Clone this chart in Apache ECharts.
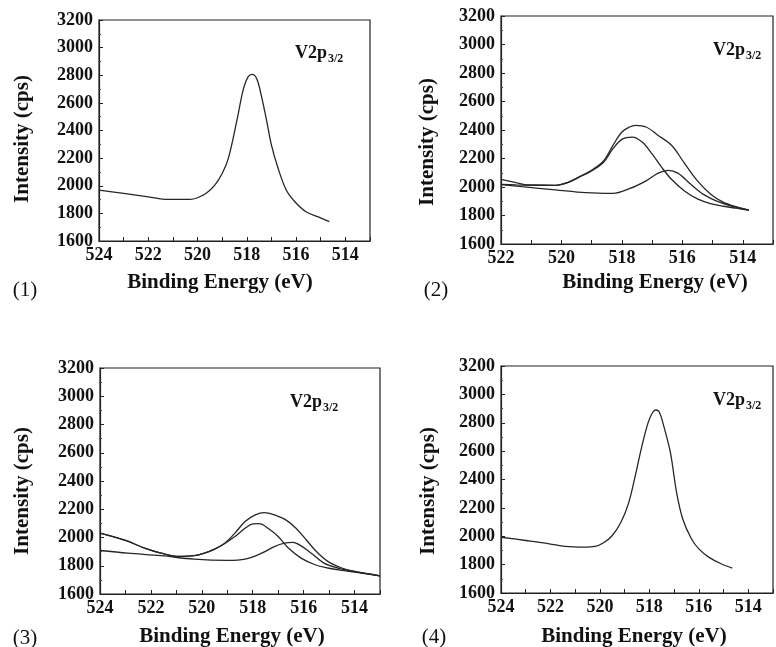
<!DOCTYPE html>
<html>
<head>
<meta charset="utf-8">
<script src="https://cdn.jsdelivr.net/npm/echarts@6/dist/echarts.min.js"></script>
<style>html,body{margin:0;padding:0;background:#fff;}#c{width:776px;height:647px;}</style>
</head>
<body>
<div id="c"></div>
<script>
// ---- data (Binding Energy in eV, Intensity in cps) ----
const yTicks = [1600, 1800, 2000, 2200, 2400, 2600, 2800, 3000, 3200];
const panelLabels = ['(1)', '(2)', '(3)', '(4)'];

// Panel 1
const p1Energy = [524, 523, 522, 521.2, 520.3, 520, 519.65, 519.3, 519.0, 518.75, 518.4, 518.15, 517.95, 517.78, 517.6, 517.4, 517.2, 517.0, 516.75, 516.4, 516.05, 515.6, 515.05, 514.65];
const p1Intensity = [1969, 1945, 1920, 1901, 1901, 1913, 1945, 2005, 2089, 2198, 2475, 2692, 2788, 2807, 2776, 2644, 2475, 2294, 2137, 1969, 1884, 1812, 1771, 1740];

// Panel 2
const p2EnvEnergy = [522, 521.5, 521.1, 520.2, 519.8, 519.4, 518.95, 518.6, 518.3, 518.0, 517.75, 517.55, 517.2, 516.8, 516.35, 515.95, 515.5, 515.05, 514.65, 514.2, 513.8];
const p2EnvIntensity = [2054, 2031, 2014, 2012, 2031, 2073, 2125, 2185, 2291, 2386, 2421, 2433, 2421, 2362, 2291, 2173, 2043, 1948, 1894, 1860, 1837];
const p2C1Energy = [522, 521.5, 521.1, 520.2, 519.8, 519.4, 518.95, 518.6, 518.3, 518.0, 517.65, 517.33, 517.0, 516.68, 516.36, 515.93, 515.5, 515.07, 514.64, 514.21, 513.8];
const p2C1Intensity = [2019, 2015, 2013, 2012, 2031, 2070, 2120, 2175, 2267, 2334, 2350, 2315, 2232, 2137, 2054, 1972, 1917, 1884, 1865, 1851, 1837];
const p2C2Energy = [522, 521.3, 520.2, 519.2, 518.3, 517.75, 517.2, 516.8, 516.47, 516.15, 515.72, 515.3, 514.86, 514.43, 513.8];
const p2C2Intensity = [2017, 2002, 1980, 1960, 1955, 1988, 2043, 2097, 2116, 2097, 2019, 1948, 1901, 1870, 1837];

// Panel 3
const p3EnvEnergy = [524, 523, 522.25, 521.6, 520.9, 520.3, 519.9, 519.5, 519.1, 518.7, 518.3, 517.9, 517.55, 517.05, 516.7, 516.3, 515.9, 515.5, 515.05, 514.5, 514.0, 513.5, 513.0];
const p3EnvIntensity = [2031, 1979, 1925, 1889, 1866, 1871, 1889, 1918, 1960, 2031, 2113, 2160, 2176, 2153, 2125, 2066, 1984, 1901, 1831, 1784, 1760, 1744, 1729];
const p3C1Energy = [524, 523, 522.25, 521.6, 520.9, 520.3, 519.9, 519.5, 519.1, 518.7, 518.3, 518.0, 517.75, 517.4, 517.0, 516.6, 516.1, 515.55, 515.05, 514.5, 513.75, 513.0];
const p3C1Intensity = [2031, 1979, 1925, 1889, 1866, 1871, 1889, 1918, 1958, 2007, 2066, 2096, 2098, 2066, 2007, 1925, 1854, 1807, 1784, 1767, 1748, 1729];
const p3C2Energy = [524, 522.9, 521.6, 520.3, 519.0, 518.3, 517.65, 517.15, 516.75, 516.42, 516.1, 515.7, 515.2, 514.65, 514.0, 513.0];
const p3C2Intensity = [1908, 1889, 1871, 1847, 1838, 1847, 1889, 1936, 1960, 1965, 1941, 1889, 1819, 1784, 1760, 1729];

// Panel 4
const p4Energy = [524, 523, 522.05, 521.4, 520.65, 520.2, 519.85, 519.5, 519.15, 518.85, 518.6, 518.3, 518.05, 517.87, 517.74, 517.6, 517.42, 517.15, 516.9, 516.65, 516.3, 516.0, 515.6, 515.1, 514.65];
const p4Intensity = [1993, 1970, 1947, 1928, 1923, 1928, 1954, 2005, 2099, 2228, 2403, 2637, 2801, 2872, 2890, 2876, 2778, 2591, 2310, 2122, 1982, 1911, 1853, 1806, 1776];

// ---- build ----
const zip = (xs, ys) => xs.map((x, i) => [x, ys[i]]);
const SERIF = '"Liberation Serif", "Times New Roman", serif';
const grids = [
  {left: 99, top: 20, width: 271, height: 221, xmax: 524},
  {left: 501, top: 16, width: 280, height: 228, xmax: 522},
  {left: 100, top: 368, width: 280, height: 226, xmax: 524},
  {left: 501, top: 366, width: 284, height: 227, xmax: 524}
];
const curves = [
  [zip(p1Energy, p1Intensity)],
  [zip(p2EnvEnergy, p2EnvIntensity), zip(p2C1Energy, p2C1Intensity), zip(p2C2Energy, p2C2Intensity)],
  [zip(p3EnvEnergy, p3EnvIntensity), zip(p3C1Energy, p3C1Intensity), zip(p3C2Energy, p3C2Intensity)],
  [zip(p4Energy, p4Intensity)]
];

const option = {
  backgroundColor: '#fff',
  animation: false,
  grid: grids.map(g => ({left: g.left, top: g.top, width: g.width, height: g.height, show: true, borderColor: '#222', borderWidth: 1.2, backgroundColor: 'transparent'})),
  xAxis: grids.map((g, i) => ({
    type: 'value', gridIndex: i, min: 513, max: g.xmax, interval: 1, inverse: true,
    axisLine: {show: true, onZero: false, lineStyle: {color: '#222', width: 1.2}},
    axisTick: {show: true, inside: true, length: 4, lineStyle: {color: '#222'}},
    splitLine: {show: false},
    axisLabel: {
      margin: 5, color: '#111', fontFamily: SERIF, fontWeight: 'bold', fontSize: 18,
      formatter: v => (v % 2 === 0 && v >= 514 ? String(v) : '')
    }
  })),
  yAxis: grids.map((g, i) => ({
    type: 'value', gridIndex: i, min: yTicks[0], max: yTicks[yTicks.length - 1], interval: 200,
    axisLine: {show: true, lineStyle: {color: '#222', width: 1.2}},
    axisTick: {show: true, inside: true, length: 4, lineStyle: {color: '#222'}},
    minorTick: {show: true, splitNumber: 2, length: 2, lineStyle: {color: '#444'}},
    splitLine: {show: false},
    axisLabel: {margin: 6, color: '#111', fontFamily: SERIF, fontWeight: 'bold', fontSize: 18,
      formatter: v => String(v)}
  })),
  series: [],
  graphic: []
};

curves.forEach((list, i) => {
  list.forEach(d => {
    option.series.push({
      type: 'line', xAxisIndex: i, yAxisIndex: i, data: d, showSymbol: false,
      smooth: 0.35, lineStyle: {color: '#262626', width: 1.3}, silent: true
    });
  });
});

const titleFont = 'bold 21px ' + SERIF;
const xTitlePos = [[220, 283], [655, 283], [232, 637], [634, 637]];
const yTitlePos = [[23, 139], [428, 142], [23, 491], [429, 491]];
const panelPos = [[25, 290], [436, 290], [25, 638], [434, 637]];
const v2pPos = [[295, 53], [713, 50], [290, 402], [713, 400]];

for (let i = 0; i < 4; i++) {
  option.graphic.push({type: 'text', x: xTitlePos[i][0], y: xTitlePos[i][1],
    style: {text: 'Binding Energy (eV)', font: titleFont, fill: '#111', align: 'center', verticalAlign: 'middle'}});
  option.graphic.push({type: 'text', x: yTitlePos[i][0], y: yTitlePos[i][1], rotation: Math.PI / 2,
    style: {text: 'Intensity (cps)', font: titleFont, fill: '#111', align: 'center', verticalAlign: 'middle'}});
  option.graphic.push({type: 'text', x: panelPos[i][0], y: panelPos[i][1],
    style: {text: panelLabels[i], font: '21px ' + SERIF, fill: '#111', align: 'center', verticalAlign: 'middle'}});
  option.graphic.push({type: 'text', x: v2pPos[i][0], y: v2pPos[i][1],
    style: {text: 'V2p', font: 'bold 18px ' + SERIF, fill: '#111', align: 'left', verticalAlign: 'middle'}});
  option.graphic.push({type: 'text', x: v2pPos[i][0] + 33, y: v2pPos[i][1] + 6,
    style: {text: '3/2', font: 'bold 12px ' + SERIF, fill: '#111', align: 'left', verticalAlign: 'middle'}});
}

const chart = echarts.init(document.getElementById('c'), null, {renderer: 'canvas'});
chart.setOption(option);
</script>
</body>
</html>
